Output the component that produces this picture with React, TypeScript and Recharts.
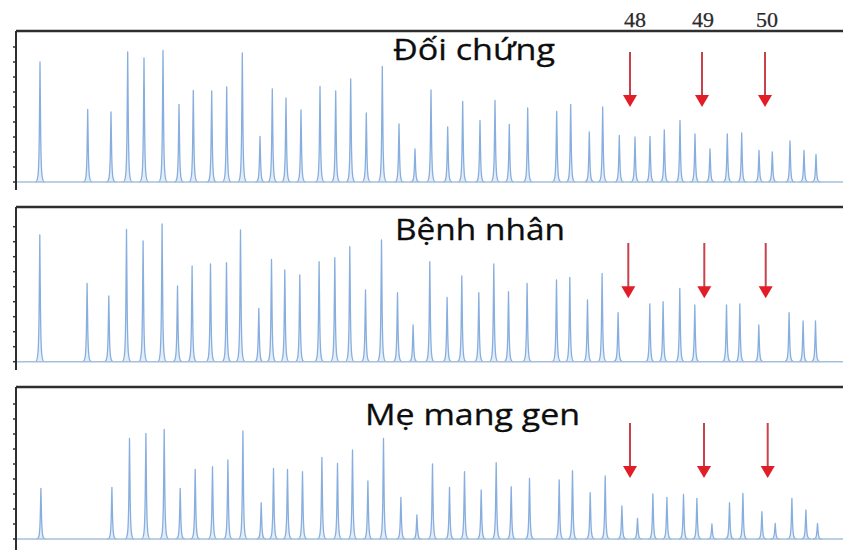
import React from 'react';
import { ComposedChart, Bar, XAxis, YAxis, ReferenceLine } from 'recharts';

// Peak positions (scan units) and heights (signal units) for each trace
const controlPos = [24, 71.7, 95, 111.7, 128, 147, 163, 177.3, 195.7, 210.7, 226.3, 244, 256.3, 270, 285, 304, 319.7, 334.7, 350.3, 366.3, 383, 399, 415, 431.7, 446.7, 464, 479, 493.3, 511.7, 540.7, 554.7, 573.3, 586.7, 603.3, 619, 634, 648.3, 664, 679, 694, 711.3, 725.7, 743, 756.3, 774, 788, 800];
const controlHeight = [120, 72.5, 70, 130, 124, 131.5, 77.5, 91.5, 91, 95, 129, 45.5, 93, 84, 72, 95.5, 91, 103, 69, 115.5, 58, 33, 92, 55, 80.5, 61.5, 81.5, 57.5, 74, 70.5, 77.5, 50, 75, 46.5, 45, 45.5, 52, 61.5, 48, 33, 48, 49, 31.5, 30, 41, 31.5, 27.5];

const patientPos = [24, 71.3, 93, 110.7, 127.3, 146.3, 161.7, 176.3, 194.7, 210.7, 224.7, 243, 255.7, 269, 284, 303.3, 319, 334, 349.7, 365.7, 381.7, 397.3, 414, 431.3, 446, 463, 478, 492.7, 511.3, 540.7, 554, 571.7, 586.3, 602.3, 634, 647.3, 664, 679, 710.7, 724, 743, 773.3, 787.3, 799.7];
const patientHeight = [126.7, 78.4, 65.7, 132.4, 120.7, 137.7, 75.7, 95.7, 97.7, 99, 131.7, 53.4, 102.4, 91.7, 86.7, 100, 104, 115, 71.7, 121.7, 69, 36.7, 100, 64.4, 85.7, 69, 97.7, 70, 78.4, 81.7, 84.4, 61.7, 88.4, 49, 57.7, 60, 73.4, 56.7, 56.7, 57.7, 36.7, 49, 40.7, 40.7];

const carrierPos = [24.7, 95.7, 113.3, 129.7, 148, 164, 179, 196.3, 211.7, 226.7, 245, 257.3, 271.3, 286.3, 305.7, 321.3, 336.3, 351.7, 367.3, 384.7, 400.7, 416.3, 433.3, 448.3, 465, 480, 495, 513.3, 543, 556.3, 574, 589, 605.7, 621.3, 636.7, 650.7, 667.3, 680.7, 695.7, 713.3, 726.7, 745.7, 759, 775.7, 789.7, 801.3];
const carrierHeight = [50.7, 51.7, 100.7, 105.7, 109.7, 50.7, 69.7, 72.3, 79, 108, 36.3, 70.7, 69.7, 67.3, 81.7, 75.7, 89, 58, 100.7, 41.7, 24, 75, 51.7, 67.3, 49, 76.3, 52.3, 60.7, 59, 68.3, 46.3, 63, 33, 20.7, 45, 41.7, 44.7, 40.7, 15, 36.3, 45.7, 27.3, 15.7, 40.7, 29, 15.7];

// Allele markers 48, 49, 50
const alleleLabels = ['48', '49', '50'];
const controlArrows = [614, 686, 749];
const patientArrows = [612.3, 688.3, 749.7];
const carrierArrows = [614, 688, 751.7];

const panelTitles = ['Đối chứng', 'Bệnh nhân', 'Mẹ mang gen'];
const yTicks = [0, 15, 30, 45, 60, 75, 90, 105, 120, 135];
const xDomain: [number, number] = [0, 827];

const toPeaks = (pos: number[], h: number[]) => pos.map((p, i) => ({ pos: p, h: h[i] }));

const PeakShape = (props: any) => {
  const { x, y, width, height } = props;
  if (x == null || y == null || !height) return null;
  const cx = x + width / 2;
  const yb = y + height;
  const h = height;
  const d = `M${cx - 4.5},${yb} C${cx - 1.8},${yb} ${cx - 1.2},${yb - h * 0.07} ${cx - 0.7},${yb - h * 0.4} L${cx},${y} L${cx + 0.7},${yb - h * 0.4} C${cx + 1.2},${yb - h * 0.07} ${cx + 1.8},${yb} ${cx + 4.5},${yb}`;
  return <path d={d} fill="#e4eef9" stroke="#87aede" strokeWidth={1.3} strokeLinejoin="round" />;
};

const ArrowShape = (props: any) => {
  const { x1, y1, x2, y2 } = props;
  const head = 12;
  return (
    <g>
      <line x1={x1} y1={y1} x2={x2} y2={y2 - head + 1} stroke="#c8414b" strokeWidth={2} />
      <polygon points={`${x2 - 7},${y2 - head} ${x2 + 7},${y2 - head} ${x2},${y2}`} fill="#e11d27" />
    </g>
  );
};

const NoLabel = () => <g />;

type PanelProps = {
  pos: number[];
  heights: number[];
  arrows: number[];
  arrowY: [number, number];
  domain: [number, number];
  top: number;
  height: number;
  marginTop: number;
};

function Panel({ pos, heights, arrows, arrowY, domain, top, height, marginTop }: PanelProps) {
  const data = toPeaks(pos, heights);
  return (
    <div style={{ position: 'absolute', left: 0, top }}>
      <ComposedChart width={843} height={height} data={data} margin={{ top: marginTop, right: 0, bottom: 0, left: 0 }}>
        <XAxis
          type="number"
          dataKey="pos"
          domain={xDomain}
          orientation="top"
          height={1}
          tick={false}
          tickLine={false}
          axisLine={{ stroke: '#2e2e2e', strokeWidth: 2.5 }}
          allowDataOverflow
        />
        <YAxis
          type="number"
          domain={domain}
          ticks={yTicks}
          interval={0}
          width={16}
          tick={NoLabel}
          tickSize={3}
          tickLine={{ stroke: '#333', strokeWidth: 1.5 }}
          axisLine={{ stroke: '#2e2e2e', strokeWidth: 2 }}
          allowDataOverflow
        />
        <ReferenceLine y={0} stroke="#a6bfda" strokeWidth={1.5} />
        <Bar dataKey="h" barSize={8} shape={PeakShape} isAnimationActive={false} />
        {arrows.map((a) => (
          <ReferenceLine
            key={a}
            segment={[{ x: a, y: arrowY[0] }, { x: a, y: arrowY[1] }]}
            shape={ArrowShape}
            ifOverflow="visible"
          />
        ))}
      </ComposedChart>
    </div>
  );
}

export default function App() {
  return (
    <div style={{ position: 'absolute', left: 0, top: 0, width: 843, height: 550, background: '#fff', overflow: 'hidden' }}>
      <Panel pos={controlPos} heights={controlHeight} arrows={controlArrows} arrowY={[130, 75]} domain={[-8, 151]} top={0} height={190} marginTop={30} />
      <Panel pos={patientPos} heights={patientHeight} arrows={patientArrows} arrowY={[118.7, 63.4]} domain={[-8.3, 154.7]} top={190} height={180} marginTop={16} />
      <Panel pos={carrierPos} heights={carrierHeight} arrows={carrierArrows} arrowY={[116, 61]} domain={[-11, 152]} top={370} height={180} marginTop={16} />
      <svg width={843} height={550} style={{ position: 'absolute', left: 0, top: 0, pointerEvents: 'none' }}>
        <g fontFamily="'Open Sans', 'Noto Sans', sans-serif" fontSize={30} fill="#0d0d0d" stroke="#0d0d0d" strokeWidth={0.3}>
          <text x={393} y={60} textLength={162} lengthAdjust="spacingAndGlyphs">{panelTitles[0]}</text>
          <text x={395} y={240} textLength={170} lengthAdjust="spacingAndGlyphs">{panelTitles[1]}</text>
          <text x={365} y={425} textLength={215} lengthAdjust="spacingAndGlyphs">{panelTitles[2]}</text>
        </g>
        <g fontFamily="'Liberation Serif', 'Times New Roman', serif" fontSize={22} fill="#2a2a2a" stroke="#2a2a2a" strokeWidth={0.25} textAnchor="middle">
          <text x={635} y={27}>{alleleLabels[0]}</text>
          <text x={703} y={27}>{alleleLabels[1]}</text>
          <text x={767} y={27}>{alleleLabels[2]}</text>
        </g>
      </svg>
    </div>
  );
}
